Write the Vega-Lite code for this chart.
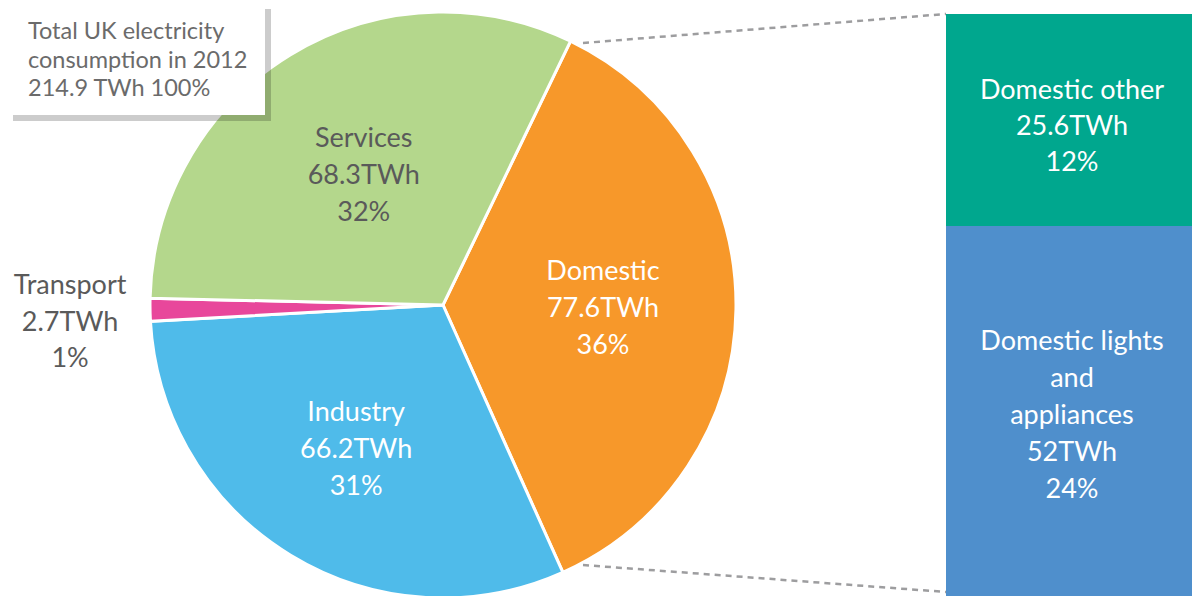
{
  "$schema": "https://vega.github.io/schema/vega-lite/v6.json",
  "width": 1192,
  "height": 596,
  "autosize": {"type": "none"},
  "padding": 0,
  "background": "white",
  "config": {"view": {"stroke": null}, "font": "Lato", "text": {"font": "Lato"}},
  "datasets": {
    "pie": [
      {"cat": "Domestic", "twh": 77.6, "ord": 1, "label": "Domestic\n77.6TWh\n36%"},
      {"cat": "Industry", "twh": 66.2, "ord": 2, "label": "Industry\n66.2TWh\n31%"},
      {"cat": "Transport", "twh": 2.7, "ord": 3, "label": "Transport\n2.7TWh\n1%"},
      {"cat": "Services", "twh": 68.3, "ord": 4, "label": "Services\n68.3TWh\n32%"}
    ],
    "domestic": [
      {"cat": "Domestic other", "twh": 25.6, "ord": 1, "label": "Domestic other\n25.6TWh\n12%"},
      {"cat": "Domestic lights and appliances", "twh": 52, "ord": 2, "label": "Domestic lights\nand\nappliances\n52TWh\n24%"}
    ],
    "note": [
      {"label": "Total UK electricity\nconsumption in 2012\n214.9 TWh 100%"}
    ]
  },
  "layer": [
    {
      "data": {"name": "pie"},
      "mark": {"type": "arc", "outerRadius": 293, "stroke": "white", "strokeWidth": 3},
      "encoding": {
        "theta": {"field": "twh", "type": "quantitative", "stack": true, "scale": {"range": [0.4503, 6.7335]}},
        "order": {"field": "ord", "type": "quantitative"},
        "color": {
          "field": "cat", "type": "nominal", "legend": null,
          "scale": {
            "domain": ["Domestic", "Industry", "Transport", "Services", "Domestic other", "Domestic lights and appliances"],
            "range": ["#F7982A", "#4FBBEA", "#E8479B", "#B4D78C", "#00A78E", "#4F8FCC"]
          }
        },
        "x": {"value": 443},
        "y": {"value": 305}
      }
    },
    {
      "data": {"name": "pie"},
      "mark": {"type": "text", "radius": 152, "dy": -36, "fontSize": 27, "lineBreak": "\n", "lineHeight": 37, "align": "center", "baseline": "middle"},
      "encoding": {
        "theta": {"field": "twh", "type": "quantitative", "stack": true},
        "order": {"field": "ord", "type": "quantitative"},
        "x": {"value": 443},
        "y": {"value": 305},
        "text": {"condition": {"test": "datum.cat === 'Services'", "field": "label", "type": "nominal"}, "value": ""},
        "color": {"value": "#5a5a5a"}
      }
    },
    {
      "data": {"name": "pie"},
      "mark": {"type": "text", "radius": 160, "dy": -35, "fontSize": 27, "lineBreak": "\n", "lineHeight": 37, "align": "center", "baseline": "middle"},
      "encoding": {
        "theta": {"field": "twh", "type": "quantitative", "stack": true},
        "order": {"field": "ord", "type": "quantitative"},
        "x": {"value": 443},
        "y": {"value": 305},
        "text": {"condition": {"test": "datum.cat === 'Domestic'", "field": "label", "type": "nominal"}, "value": ""},
        "color": {"value": "white"}
      }
    },
    {
      "data": {"name": "pie"},
      "mark": {"type": "text", "radius": 167, "dy": -35, "fontSize": 27, "lineBreak": "\n", "lineHeight": 37, "align": "center", "baseline": "middle"},
      "encoding": {
        "theta": {"field": "twh", "type": "quantitative", "stack": true},
        "order": {"field": "ord", "type": "quantitative"},
        "x": {"value": 443},
        "y": {"value": 305},
        "text": {"condition": {"test": "datum.cat === 'Industry'", "field": "label", "type": "nominal"}, "value": ""},
        "color": {"value": "white"}
      }
    },
    {
      "data": {"name": "pie"},
      "mark": {"type": "text", "radius": 373, "dy": -25, "fontSize": 27, "lineBreak": "\n", "lineHeight": 36.5, "align": "center", "baseline": "middle"},
      "encoding": {
        "theta": {"field": "twh", "type": "quantitative", "stack": true},
        "order": {"field": "ord", "type": "quantitative"},
        "x": {"value": 443},
        "y": {"value": 305},
        "text": {"condition": {"test": "datum.cat === 'Transport'", "field": "label", "type": "nominal"}, "value": ""},
        "color": {"value": "#5a5a5a"}
      }
    },
    {
      "data": {"name": "domestic"},
      "transform": [{"stack": "twh", "groupby": [], "sort": [{"field": "ord", "order": "ascending"}], "as": ["y0", "y1"]}],
      "mark": {"type": "rect", "clip": true},
      "encoding": {
        "y": {"field": "y0", "type": "quantitative", "axis": null, "scale": {"domain": [-1.69, 70.28], "reverse": true, "nice": false, "zero": false}},
        "y2": {"field": "y1"},
        "color": {"field": "cat", "type": "nominal", "legend": null},
        "x": {"value": 946},
        "x2": {"value": 1200}
      }
    },
    {
      "data": {"name": "domestic"},
      "transform": [{"filter": "datum.cat === 'Domestic other'"}],
      "mark": {"type": "text", "dy": -36, "fontSize": 27, "lineBreak": "\n", "lineHeight": 36, "align": "center", "baseline": "middle", "color": "white"},
      "encoding": {
        "text": {"field": "label", "type": "nominal"},
        "x": {"value": 1072},
        "y": {"datum": 13.6, "type": "quantitative"}
      }
    },
    {
      "data": {"name": "domestic"},
      "transform": [{"filter": "datum.cat === 'Domestic lights and appliances'"}],
      "mark": {"type": "text", "dy": -72, "fontSize": 27, "lineBreak": "\n", "lineHeight": 37, "align": "center", "baseline": "middle", "color": "white"},
      "encoding": {
        "text": {"field": "label", "type": "nominal"},
        "x": {"value": 1072},
        "y": {"datum": 48.3, "type": "quantitative"}
      }
    },
    {
      "data": {"values": [{}]},
      "mark": {"type": "rule", "stroke": "#9d9d9f", "strokeWidth": 2.5, "strokeDash": [6, 5]},
      "encoding": {"x": {"value": 583}, "y": {"value": 43}, "x2": {"value": 946}, "y2": {"value": 14}}
    },
    {
      "data": {"values": [{}]},
      "mark": {"type": "rule", "stroke": "#9d9d9f", "strokeWidth": 2.5, "strokeDash": [6, 5]},
      "encoding": {"x": {"value": 583}, "y": {"value": 565}, "x2": {"value": 946}, "y2": {"value": 592}}
    },
    {
      "data": {"values": [{}]},
      "mark": {"type": "rect", "fill": "black", "opacity": 0.2},
      "encoding": {"x": {"value": 13}, "y": {"value": 9}, "x2": {"value": 271}, "y2": {"value": 121}}
    },
    {
      "data": {"values": [{}]},
      "mark": {"type": "rect", "fill": "white", "opacity": 1},
      "encoding": {"x": {"value": 7}, "y": {"value": 3}, "x2": {"value": 265}, "y2": {"value": 115}}
    },
    {
      "data": {"name": "note"},
      "mark": {"type": "text", "fontSize": 23.5, "lineBreak": "\n", "lineHeight": 28.5, "align": "left", "baseline": "middle", "color": "#6b6b6b"},
      "encoding": {
        "text": {"field": "label", "type": "nominal"},
        "x": {"value": 28},
        "y": {"value": 32}
      }
    }
  ]
}
